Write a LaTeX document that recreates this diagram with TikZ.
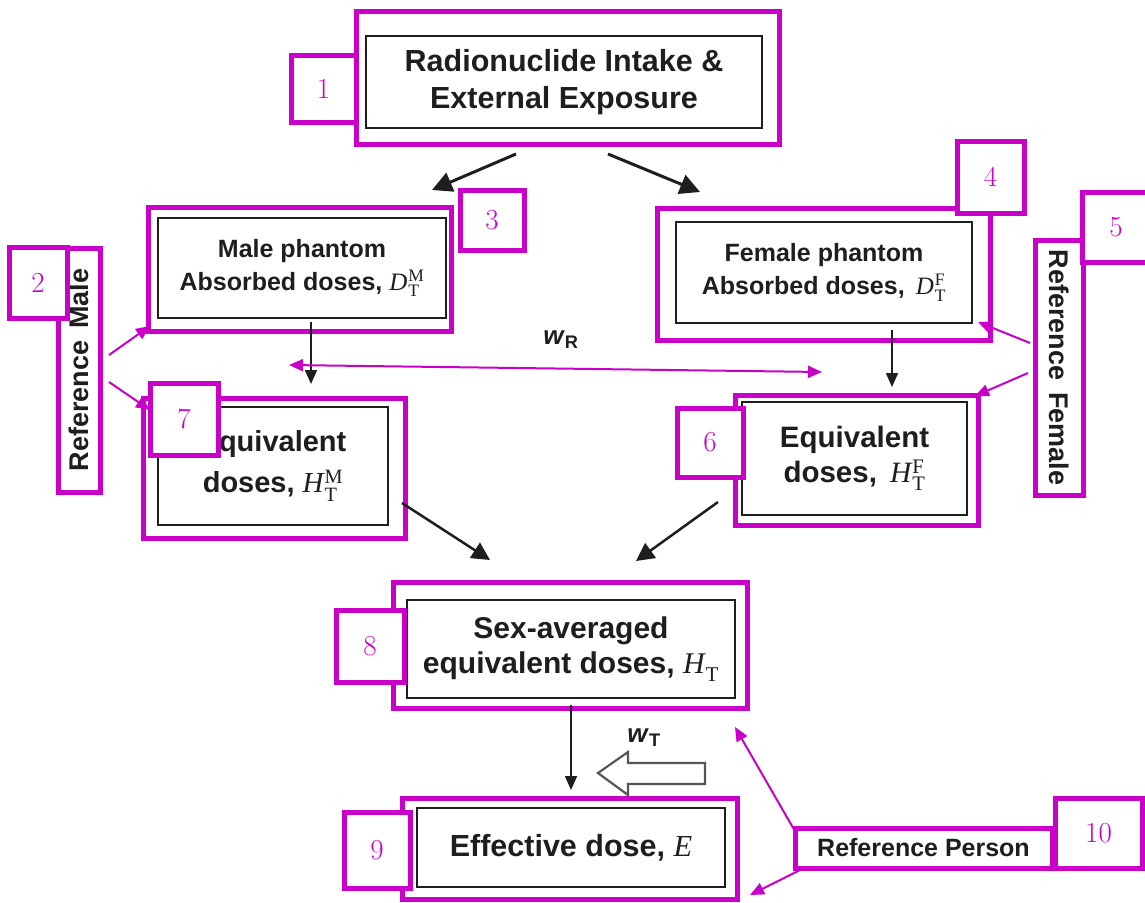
\documentclass[tikz,border=0pt]{standalone}
\usepackage{amsmath}
\usepackage{fontspec}
\setsansfont{Liberation Sans}
\newfontfamily\tnr{Liberation Serif}
\newcommand{\qsym}[3]{$\text{\tnr\mdseries\itshape #1}\kern1pt{}_{\text{\tnr\mdseries #2}}^{\text{\tnr\mdseries #3}}$}
\usetikzlibrary{arrows.meta}
\definecolor{mag}{RGB}{200,0,200}
\definecolor{ink}{RGB}{30,30,30}
\tikzset{
  outerbox/.style={draw=mag, line width=5pt, rectangle, inner sep=0pt},
  innerbox/.style={draw=ink, line width=2pt, rectangle, inner sep=0pt, align=center, text=ink, font=\sffamily\bfseries},
  numbox/.style={draw=mag, fill=white, line width=5pt, rectangle, inner sep=0pt, text=mag, font=\rmfamily\fontsize{29}{30}\selectfont},
  refbox/.style={draw=mag, fill=white, line width=5pt, rectangle, inner sep=0pt, text=ink, font=\sffamily\bfseries\fontsize{27}{29}\selectfont},
  bigarrow/.style={draw=ink, line width=3pt, -{Triangle[length=20pt,width=20pt]}},
  midarrow/.style={draw=ink, line width=2.5pt, -{Triangle[length=18pt,width=18pt]}},
  thinarrow/.style={draw=ink, line width=1.6pt, -{Triangle[length=14pt,width=12pt]}},
  magarrow/.style={draw=mag, line width=2pt, -{Triangle[length=14pt,width=12pt]}},
  magdbl/.style={draw=mag, line width=2pt, {Triangle[length=14pt,width=12pt]}-{Triangle[length=14pt,width=12pt]}},
}
\begin{document}
\begin{tikzpicture}[x=1pt,y=-1pt]
\useasboundingbox (0,0) rectangle (1145,902);
\fill[white] (0,0) rectangle (1145,902);

% ---- box 1
\node[outerbox, minimum width=423, minimum height=133] (o1) at (567.5,77.5) {};
\node[innerbox, minimum width=396, minimum height=92, font=\sffamily\bfseries\fontsize{30.5}{37}\selectfont] (b1) at (564,82) {Radionuclide Intake \&\\External Exposure};
\node[numbox, minimum width=65, minimum height=67] (n1) at (323.5,88.5) {1};

% ---- male phantom
\node[outerbox, minimum width=303, minimum height=124] (o3) at (299.5,269) {};
\node[innerbox, minimum width=288, minimum height=100, font=\sffamily\bfseries\fontsize{25}{33}\selectfont] (b3) at (302,268) {Male phantom\\Absorbed doses, \qsym{D}{T}{M}};
\node[numbox, minimum width=64, minimum height=60] (n3) at (492,220) {3};

% ---- reference male
\node[refbox, minimum width=244, minimum height=42, rotate=90] (rm) at (79,370) {Reference\, Male};
\node[numbox, minimum width=58, minimum height=71] (n2) at (38,282.5) {2};

% ---- equivalent male
\node[outerbox, minimum width=262, minimum height=140] (o7) at (274,468) {};
\node[innerbox, minimum width=230, minimum height=118, font=\sffamily\bfseries\fontsize{29}{41}\selectfont] (b7) at (273,466) {Equivalent\\doses, \qsym{H}{T}{M}};
\node[numbox, minimum width=68, minimum height=72] (n7) at (184,419) {7};

% ---- female phantom
\node[outerbox, minimum width=333, minimum height=132] (o4) at (823.5,274) {};
\node[innerbox, minimum width=296, minimum height=101, font=\sffamily\bfseries\fontsize{25}{33}\selectfont] (b4) at (824,272.5) {Female phantom\\Absorbed doses, \,\qsym{D}{T}{F}};
\node[numbox, minimum width=67, minimum height=72] (n4) at (990.5,177) {4};

% ---- reference female
\node[refbox, minimum width=255, minimum height=48, rotate=-90] (rf) at (1059,367.5) {Reference\, Female};
\node[numbox, minimum width=68, minimum height=70] (n5) at (1116,227) {5};

% ---- equivalent female
\node[outerbox, minimum width=243, minimum height=130] (o6) at (856.5,460) {};
\node[innerbox, minimum width=225, minimum height=113, font=\sffamily\bfseries\fontsize{29.5}{35}\selectfont] (b6) at (854.5,458.5) {Equivalent\\doses, \,\qsym{H}{T}{F}};
\node[numbox, minimum width=66, minimum height=69] (n6) at (710,442.5) {6};

% ---- sex-averaged
\node[outerbox, minimum width=354, minimum height=126] (o8) at (570,645) {};
\node[innerbox, minimum width=328, minimum height=98, font=\sffamily\bfseries\fontsize{30}{35}\selectfont] (b8) at (571,649) {Sex-averaged\\equivalent doses, \qsym{H}{T}{}};
\node[numbox, minimum width=68, minimum height=72] (n8) at (370,646) {8};

% ---- effective dose
\node[outerbox, minimum width=335, minimum height=101] (o9) at (569.5,848.5) {};
\node[innerbox, minimum width=308, minimum height=79, font=\sffamily\bfseries\fontsize{30.5}{33}\selectfont] (b9) at (571,847.5) {Effective dose, {\tnr\mdseries\itshape E}};
\node[numbox, minimum width=66, minimum height=76] (n9) at (377,850) {9};

% ---- reference person
\node[refbox, minimum width=257, minimum height=40, font=\sffamily\bfseries\fontsize{25}{26}\selectfont] (rp) at (923.5,848) {Reference Person};
\node[numbox, minimum width=87, minimum height=70] (n10) at (1098.5,833) {10};

% ---- weight labels
\node[text=ink, font=\sffamily\bfseries\fontsize{26}{28}\selectfont] (wr) at (561,340) {\textit{w}\textsubscript{R}};
\node[text=ink, font=\sffamily\bfseries\fontsize{26}{28}\selectfont] (wt) at (644,738) {\textit{w}\textsubscript{T}};

% ---- connector end points
\coordinate (a1s) at (516,154); \coordinate (a1e) at (432,190);
\coordinate (a2s) at (608,154); \coordinate (a2e) at (700,192);
\coordinate (mvs) at (311,322); \coordinate (mve) at (311,384);
\coordinate (fvs) at (892,330); \coordinate (fve) at (892,387);
\coordinate (m7s) at (402,503); \coordinate (m7e) at (490,560);
\coordinate (f6s) at (718,502); \coordinate (f6e) at (636,561);
\coordinate (s8s) at (571,705); \coordinate (s8e) at (571,790);
\coordinate (wls) at (289,365); \coordinate (wle) at (822,372);
\coordinate (rm1s) at (109,355); \coordinate (rm1e) at (150,326);
\coordinate (rm2s) at (109,382); \coordinate (rm2e) at (150,410);
\coordinate (rf1s) at (1030,343); \coordinate (rf1e) at (978,322);
\coordinate (rf2s) at (1028,373); \coordinate (rf2e) at (975,396);
\coordinate (rp1s) at (796,833); \coordinate (rp1e) at (735,727);
\coordinate (rp2s) at (800,870); \coordinate (rp2e) at (750,895);

% ---- black connectors
\draw[bigarrow] (a1s) -- (a1e);
\draw[bigarrow] (a2s) -- (a2e);
\draw[thinarrow] (mvs) -- (mve);
\draw[thinarrow] (fvs) -- (fve);
\draw[midarrow] (m7s) -- (m7e);
\draw[midarrow] (f6s) -- (f6e);
\draw[thinarrow] (s8s) -- (s8e);

% ---- magenta connectors
\draw[magdbl] (wls) -- (wle);
\draw[magarrow] (rm1s) -- (rm1e);
\draw[magarrow] (rm2s) -- (rm2e);
\draw[magarrow] (rf1s) -- (rf1e);
\draw[magarrow] (rf2s) -- (rf2e);
\draw[magarrow] (rp1s) -- (rp1e);
\draw[magarrow] (rp2s) -- (rp2e);

% ---- hollow block arrow (w_T)
\draw[draw=ink!75, line width=2.2pt, fill=white, line join=miter]
  (598,773) -- (628,752) -- (628,763) -- (705,763) -- (705,784) -- (628,784) -- (628,795) -- cycle;
\end{tikzpicture}
\end{document}
